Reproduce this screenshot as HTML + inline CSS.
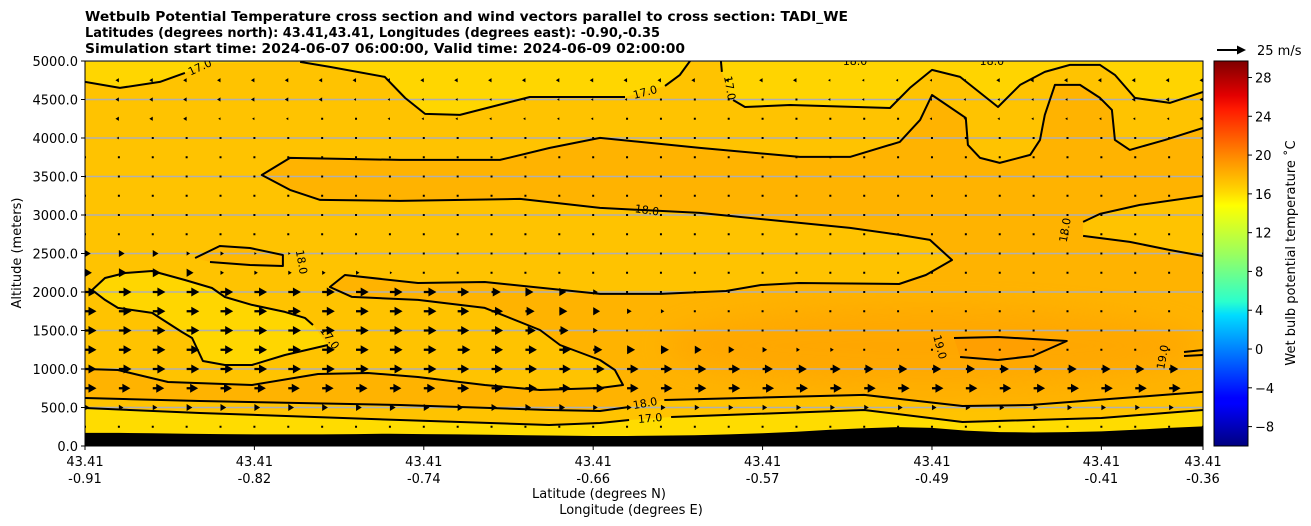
<!DOCTYPE html>
<html><head><meta charset="utf-8"><style>
html,body{margin:0;padding:0;background:#fff;}
svg{display:block;font-family:"DejaVu Sans","Liberation Sans",sans-serif;}
</style></head><body>
<svg id="chart" width="1311" height="526" viewBox="0 0 1311 526" xmlns="http://www.w3.org/2000/svg">
<defs>
<clipPath id="plotclip"><rect x="85" y="61" width="1118" height="385"/></clipPath>
<linearGradient id="jet" x1="0" y1="1" x2="0" y2="0">
<stop offset="0" stop-color="#00007f"/><stop offset="0.11" stop-color="#0000ff"/><stop offset="0.125" stop-color="#0000ff"/>
<stop offset="0.34" stop-color="#00dcff"/><stop offset="0.375" stop-color="#2bffcd"/><stop offset="0.5" stop-color="#9bff5e"/>
<stop offset="0.625" stop-color="#ffff00"/><stop offset="0.66" stop-color="#ffd900"/><stop offset="0.75" stop-color="#ff8c00"/>
<stop offset="0.875" stop-color="#ff1a00"/><stop offset="0.91" stop-color="#e40000"/><stop offset="1" stop-color="#7f0000"/>
</linearGradient>
<filter id="soft" x="-30%" y="-100%" width="160%" height="300%"><feGaussianBlur stdDeviation="14"/></filter>
</defs>
<g font-weight="bold" font-size="13">
<text x="85" y="21" textLength="763" lengthAdjust="spacingAndGlyphs">Wetbulb Potential Temperature cross section and wind vectors parallel to cross section: TADI_WE</text>
<text x="85" y="37" textLength="575" lengthAdjust="spacingAndGlyphs">Latitudes (degrees north): 43.41,43.41, Longitudes (degrees east): -0.90,-0.35</text>
<text x="85" y="53" textLength="600" lengthAdjust="spacingAndGlyphs">Simulation start time: 2024-06-07 06:00:00, Valid time: 2024-06-09 02:00:00</text>
</g>
<g id="plot" clip-path="url(#plotclip)"></g>
<g id="axes"></g>
<g id="cbar"></g>
</svg>
<script>
// ---- data ----
const xTickIdx = [0, 5, 10, 15, 20, 25, 30, 33];
const xTickLat = ["43.41","43.41","43.41","43.41","43.41","43.41","43.41","43.41"];
const xTickLon = ["-0.91","-0.82","-0.74","-0.66","-0.57","-0.49","-0.41","-0.36"];
const yTicks = [0,500,1000,1500,2000,2500,3000,3500,4000,4500,5000];
const cbTicks = [-8,-4,0,4,8,12,16,20,24,28];
const terrain = [170,170,165,160,155,150,150,150,155,160,155,150,145,140,135,130,130,135,140,150,165,185,210,230,245,235,200,180,175,180,190,210,235,255];
const windAlt = [250,500,750,1000,1250,1500,1750,2000,2250,2500,2750,3000,3250,3500,3750,4000,4250,4500,4750];
const windU = [
[0,0,0,0,0,0,0,0,0,0,0,0,0,0,0,0,0,0,0,0,0,0,0,0,0,0,0,0,0,0,0,0,0,0],
[4,4,4,5,5,5,5,5,5,5,5,5,5,5,5,4,4,4,4,4,4,4,4,4,4,4,4,4,4,4,4,4,4,4],
[10,10,10,10,10,10,10,10,10,10,10,10,10,10,10,10,10,10,10,10,10,10,10,10,10,10,10,10,10,10,10,10,10,10],
[10,11,11,11,11,11,11,11,11,11,11,10,10,10,10,10,10,10,10,10,9,9,9,8,8,8,8,8,8,8,8,8,8,8],
[10,11,11,11,11,11,11,11,11,11,11,11,10,10,10,8,7,7,6,5,4,3,3,1,1,1,1,1,1,1,1,1,1,1],
[10,11,11,11,11,11,11,11,11,11,11,10,10,9,8,4,1,1,1,1,1,1,1,1,1,1,1,1,1,1,1,1,1,1],
[10,11,11,11,11,11,11,11,11,11,11,10,10,8,7,6,4,3,1,1,1,1,1,1,1,1,1,1,1,1,1,1,1,1],
[10,11,11,11,11,11,11,11,11,11,11,10,8,7,6,4,1,1,1,1,1,1,1,1,1,1,1,1,1,1,1,1,1,1],
[6,7,7,6,3,3,3,3,3,2,1,1,1,1,1,1,1,1,1,1,1,1,1,1,1,1,1,1,1,1,1,1,1,1],
[5,5,5,3,3,2,2,1,1,1,1,1,1,1,1,1,1,1,1,1,1,1,1,1,1,1,1,1,1,1,1,1,1,1],
[0,0,0,0,0,0,0,0,0,0,0,0,0,0,0,0,0,0,0,0,0,0,0,0,0,0,0,0,0,0,0,0,0,0],
[0,0,0,0,0,0,0,0,0,0,0,0,0,0,0,0,0,0,0,0,0,0,0,0,0,0,0,0,0,0,0,0,0,0],
[0,0,0,0,0,0,0,0,0,0,0,0,0,0,0,0,0,0,0,0,0,0,0,0,0,0,0,0,0,0,0,0,0,0],
[0,0,0,0,0,0,0,0,0,0,0,0,0,0,0,0,0,0,0,0,0,0,0,0,0,0,0,0,0,0,0,0,0,0],
[0,0,0,0,0,0,0,0,0,0,0,0,0,0,0,0,0,0,0,0,0,0,0,0,0,0,0,0,0,0,0,0,0,0],
[-2,-2,0,0,0,0,0,0,0,0,0,0,0,0,0,0,0,0,0,0,0,0,0,0,0,0,0,0,0,0,0,0,0,-2],
[-3,-3,-3,-3,-2,-2,-2,0,0,-2,-2,-2,-2,-2,-2,-2,0,0,0,0,0,0,0,0,0,-2,-2,-2,-2,-2,-2,-2,-2,-3],
[-3,-3,-3,-3,-3,-3,-3,-3,-2,-2,-2,-2,-2,-2,-2,-2,-2,0,0,0,0,0,-2,-2,-2,-2,-2,-2,-2,-2,-2,-3,-3,-3],
[-3,-3,-3,-3,-3,-3,-3,-3,-3,-3,-3,-3,-3,-3,-3,-3,-3,-3,-3,-3,-3,-3,-2,-2,-2,-2,-2,-3,-3,-3,-3,-3,-3,-3]
];
const line17low = [[0,494],[3.39,429],[9.3,338],[13.7,273],[15.2,299],[16.06,338]];
const line17low2 = [[17.3,377],[23,468],[25.9,312],[30,364],[33,468]];
const line18low = [[0,624],[3.39,585],[9.3,533],[13.7,468],[15.2,455],[16.06,507]];
const line18low2 = [[17.1,598],[23,663],[25.9,520],[27.9,533],[33,702]];
const line18main = [[0,1000],[0.97,987],[2.45,831],[4.93,792],[6.88,935],[8.35,948],[9.83,896],[11.8,792],[13.43,727],[15.2,753],[15.88,792],[15.64,987],[15.2,1117],[14.02,1312],[13.43,1507],[11.8,1793],[9.83,1897],[7.88,1936],[7.23,2065],[7.67,2221],[9.83,2117],[11.8,2130],[15.2,1975],[17,1975],[18.92,2013],[19.95,2091],[21.07,2117],[24.03,2104],[24.82,2221],[25.59,2416],[24.94,2676],[24.05,2741],[22.58,2832],[18.15,3027],[15.2,3092],[12.84,3209],[9.3,3183],[6.94,3196],[6.05,3326],[5.22,3520],[6.05,3741],[9.3,3715],[12.25,3715],[13.72,3871],[15.2,4001],[16.68,3936],[18.15,3871],[21.1,3754],[22.58,3754],[24.05,3949],[24.65,4235],[25,4559],[26,4261],[26.06,3910],[26.42,3741],[27,3676],[27.9,3780],[28.19,3975],[28.33,4300],[28.63,4690],[29.37,4690],[29.96,4521],[30.31,4365],[30.4,3975],[30.84,3845],[31.88,3975],[33,4131]];
const line18rightUp = [[29.46,2910],[29.96,3014],[31.14,3131],[33,3248]];
const line18rightLo = [[29.46,2728],[30.84,2650],[32.02,2546],[33,2468]];
const line17topLeft = [[0,4728],[1.03,4650],[2.21,4728],[2.95,4845]];
const line17topMid = [[6.35,4988],[7.23,4923],[8.85,4793],[9.45,4520],[10.04,4313],[11.07,4300],[13.13,4533],[15.94,4533]];
const line17topMid2 = [[17.12,4676],[17.56,4819],[17.86,5001]];
const line17topRight1 = [[18.77,5001],[18.8,4858]];
const line17topRight2 = [[19.13,4494],[19.48,4403],[20.81,4429],[23.76,4390],[24.35,4650],[25,4884],[25.83,4793],[26.95,4403],[27.6,4690],[28.33,4858],[29.07,4949],[29.96,4949],[30.4,4819],[30.99,4521],[32.02,4456],[33,4598]];
const loop18left = [[3.25,2442],[3.98,2598],[4.87,2572],[5.84,2481],[5.84,2338],[4.87,2351],[3.69,2390]];
const loop17left = [[6.73,1572],[6.49,1663],[5.9,1741],[4.93,1832],[4.13,1935],[3.75,2052],[2.95,2156],[1.98,2273],[1.18,2247],[0.59,2182],[0.21,2026],[0.59,1897],[0.97,1793],[1.98,1728],[2.86,1481],[3.16,1403],[3.48,1104],[4.13,1052],[4.93,1052],[5.9,1182],[7.17,1312]];
const loop19 = [[25.65,1403],[26.95,1416],[27.98,1390],[28.98,1364],[27.98,1169],[26.95,1117],[25.83,1156]];
const line19rightA = [[32.44,1221],[33,1247]];
const line19rightB = [[32.44,1169],[33,1182]];
const labelText = ["17.0","17.0","17.0","18.0","18.0","18.0","18.0","17.0","19.0","19.0","18.0","18.0","17.0"];
const labelPos = [[3.39,4923],[16.53,4598],[19.04,4650],[22.73,5000],[26.77,5000],[16.59,3066],[6.4,2390],[7.23,1403],[25.24,1286],[31.8,1156],[28.92,2806],[16.53,558],[16.68,364]];
const labelRot = [-25,-15,80,0,0,8,80,55,75,-80,-80,-10,-5];

// ---- axes ----
const X0=85, X1=1203, Y0=446, Y1=61, XMAX=33, YMAX=5000;
const CB_MIN=-10, CB_MAX=29.7;
function sx(i){return X0+(X1-X0)*i/XMAX;}
function sy(a){return Y0-(Y0-Y1)*a/YMAX;}
function cy(v){return Y0-(Y0-Y1)*(v-CB_MIN)/(CB_MAX-CB_MIN);}
const NS="http://www.w3.org/2000/svg";
function mk(tag,attrs,parent){const e=document.createElementNS(NS,tag);for(const k in attrs)e.setAttribute(k,attrs[k]);parent.appendChild(e);return e;}
function pts(a){return a.map(p=>sx(p[0]).toFixed(1)+","+sy(p[1]).toFixed(1)).join(" ");}
const plot=document.getElementById('plot'), axes=document.getElementById('axes'), cbar=document.getElementById('cbar');

// fills
let e;
e=mk('rect',{x:X0,y:Y1,width:X1-X0,height:Y0-Y1,fill:'#ffc300'},plot);


const orange=[...line18main].reverse().concat(line18low,line18low2,[...line18rightLo].reverse(),line18rightUp);
e=mk('polygon',{points:pts(orange),fill:'#ffb300'},plot);


e=mk('ellipse',{cx:sx(25),cy:sy(1300),rx:270,ry:38,fill:'#ffa400',opacity:0.8,filter:'url(#soft)'},plot);


e=mk('polygon',{points:pts(loop19),fill:'#ff9f00'},plot);


e=mk('polygon',{points:pts(loop18left),fill:'#ffb800'},plot);


e=mk('polygon',{points:pts(loop17left),fill:'#ffd600'},plot);


const topY=[[0,5000]].concat(line17topLeft,[[3.69,4975]],line17topMid,line17topMid2);
e=mk('polygon',{points:pts(topY),fill:'#ffd600'},plot);


const topR=line17topRight1.concat(line17topRight2,[[33,5000]]);
e=mk('polygon',{points:pts(topR),fill:'#ffd400'},plot);


const lowY=line17low.concat(line17low2,[[33,0],[0,0]]);
e=mk('polygon',{points:pts(lowY),fill:'#ffdc00'},plot);



// gridlines
yTicks.forEach(t=>{
  const g=mk('line',{x1:X0,x2:X1,y1:sy(t),y2:sy(t),stroke:'#b0b0b0','stroke-width':1.5},plot);
  
  
});

// terrain
const terr=terrain.map((a,i)=>[i,a]).concat([[33,0],[0,0]]);
e=mk('polygon',{points:pts(terr),fill:'#000'},plot);



// contour lines
[line17low,line17low2,line18low,line18low2,line18main,line18rightUp,line18rightLo,line17topLeft,line17topMid,line17topMid2,line17topRight1,line17topRight2,loop18left,line19rightA,line19rightB].forEach(l=>{
  const c=mk('polyline',{points:pts(l),fill:'none',stroke:'#000','stroke-width':2,'stroke-linejoin':'round'},plot);
  
  
});
[loop17left,loop19].forEach(l=>{
  const c=mk('polyline',{points:pts(l),fill:'none',stroke:'#000','stroke-width':2,'stroke-linejoin':'round'},plot);
  
  
});
labelText.forEach((t,i)=>{
  const x=sx(labelPos[i][0]), y=sy(labelPos[i][1]);
  const tx=mk('text',{x:x,y:y+4,'font-size':11,'text-anchor':'middle',transform:`rotate(${labelRot[i]} ${x} ${y})`},plot);
  tx.textContent=t;
  
  
});

// wind vectors
const PXPERMS=1.15;
windU.forEach((row,r)=>{
  row.forEach((u,c)=>{
    const x=sx(c), y=sy(windAlt[r]);
    const L=Math.abs(u)*PXPERMS, d=u<0?-1:1;
    let v;
    if(L<1.6){
      v=mk('rect',{x:x-1,y:y-1,width:2,height:2,fill:'#000'},plot);
    } else if(L<8){
      const hw=L*0.6;
      v=mk('polygon',{points:`${x},${y-hw} ${x+d*L},${y} ${x},${y+hw}`,fill:'#000'},plot);
    } else {
      const hl=8, hw=4.5, sw=1.1;
      const xs=x+d*(L-hl), xe=x+d*L;
      v=mk('polygon',{points:`${x},${y-sw} ${xs},${y-sw} ${xs},${y-hw} ${xe},${y} ${xs},${y+hw} ${xs},${y+sw} ${x},${y+sw}`,fill:'#000'},plot);
    }
    
    
  });
});

// axes frame & ticks
e=mk('rect',{x:X0,y:Y1,width:X1-X0,height:Y0-Y1,fill:'none',stroke:'#000','stroke-width':1},axes);


yTicks.forEach(t=>{
  const y=sy(t);
  const tk=mk('line',{x1:X0-4,x2:X0,y1:y,y2:y,stroke:'#000'},axes);
  
  
  const tl=mk('text',{x:X0-7,y:y+5,'font-size':13,'text-anchor':'end'},axes);
  tl.textContent=t.toFixed(1);
  
  
});
xTickIdx.forEach((t,i)=>{
  const x=sx(t);
  const tk=mk('line',{x1:x,x2:x,y1:Y0,y2:Y0+4,stroke:'#000'},axes);
  
  
  const tl=mk('text',{x:x,y:466,'font-size':13,'text-anchor':'middle'},axes);
  tl.textContent=xTickLat[i];
  
  
  const tl2=mk('text',{x:x,y:483,'font-size':13,'text-anchor':'middle'},axes);
  tl2.textContent=xTickLon[i];
  
  
});
e=mk('text',{x:599,y:498,'font-size':13,'text-anchor':'middle'},axes);
e.textContent='Latitude (degrees N)';


e=mk('text',{x:631,y:514,'font-size':13,'text-anchor':'middle'},axes);
e.textContent='Longitude (degrees E)';


e=mk('text',{x:21,y:253,'font-size':13,'text-anchor':'middle',transform:'rotate(-90 21 253)'},axes);
e.textContent='Altitude (meters)';



// quiver key
e=mk('polygon',{points:'1217,49 1237,49 1237,45.5 1246,50 1237,54.5 1237,51 1217,51',fill:'#000'},axes);


e=mk('text',{x:1257,y:55,'font-size':13},axes);
e.textContent='25 m/s';



// colorbar
e=mk('rect',{x:1214,y:Y1,width:34,height:Y0-Y1,fill:'url(#jet)',stroke:'#000','stroke-width':1},cbar);


cbTicks.forEach(t=>{
  const y=cy(t);
  const tk=mk('line',{x1:1248,x2:1252,y1:y,y2:y,stroke:'#000'},cbar);
  
  
  const tl=mk('text',{x:1255,y:y+5,'font-size':13},cbar);
  tl.textContent=t<0?'\u2212'+Math.abs(t):String(t);
  
  
});
e=mk('text',{x:1295,y:253,'font-size':13,'text-anchor':'middle',transform:'rotate(-90 1295 253)'},cbar);
e.textContent='Wet bulb potential temperature \u02DAC';


</script>
</body></html>
